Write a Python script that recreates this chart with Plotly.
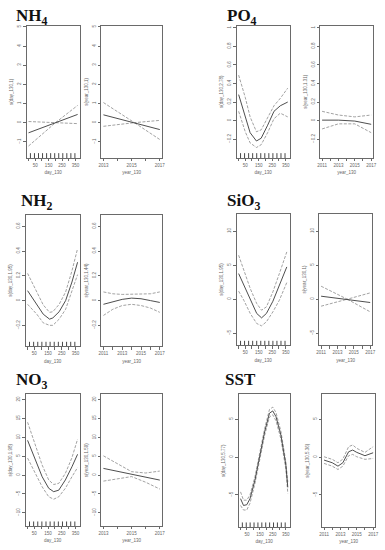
import plotly.graph_objects as go

W, H = 385, 550

# ---------------- data ----------------
rug_days = [15, 45, 75, 105, 135, 165, 195, 225, 255, 285, 315, 345]

# NH4
nh4_day_x = [1, 201, 365]
nh4_day_fit = [-0.53, 0.0, 0.43]
nh4_day_up = [0.06, 0.0, 0.90]
nh4_day_lo = [-1.22, 0.0, -0.05]
nh4_year_x = [2013, 2015.2, 2017]
nh4_year_fit = [0.41, 0.0, -0.36]
nh4_year_up = [1.05, 0.0, 0.12]
nh4_year_lo = [-0.19, 0.0, -0.88]

# PO4
po4_day_x = [1, 50, 86, 133, 168, 216, 263, 310, 365]
po4_day_fit = [0.28, 0.04, -0.13, -0.22, -0.19, -0.05, 0.10, 0.16, 0.20]
po4_day_up = [0.49, 0.25, 0.04, -0.12, -0.10, 0.04, 0.16, 0.24, 0.35]
po4_day_lo = [0.10, -0.12, -0.24, -0.29, -0.26, -0.13, 0.02, 0.08, 0.04]
po4_year_x = [2011, 2013, 2015, 2017]
po4_year_fit = [0.005, 0.005, -0.005, -0.04]
po4_year_up = [0.10, 0.06, 0.04, 0.06]
po4_year_lo = [-0.09, -0.035, -0.035, -0.13]

# NH2
nh2_day_x = [1, 68, 115, 161, 185, 231, 278, 324, 365]
nh2_day_fit = [0.08, -0.03, -0.11, -0.15, -0.14, -0.09, 0.0, 0.15, 0.31]
nh2_day_up = [0.22, 0.07, -0.035, -0.095, -0.09, -0.03, 0.07, 0.24, 0.42]
nh2_day_lo = [-0.03, -0.11, -0.18, -0.20, -0.20, -0.15, -0.07, 0.07, 0.21]
nh2_year_x = [2011, 2012, 2013, 2014, 2015, 2016, 2017]
nh2_year_fit = [-0.03, -0.01, 0.01, 0.02, 0.015, 0.0, -0.015]
nh2_year_up = [0.07, 0.055, 0.05, 0.05, 0.05, 0.055, 0.07]
nh2_year_lo = [-0.12, -0.07, -0.04, -0.03, -0.04, -0.06, -0.095]

# SiO3
sio3_day_x = [1, 39, 87, 135, 171, 207, 255, 303, 358]
sio3_day_fit = [3.77, 2.06, -0.15, -2.1, -2.75, -2.1, -0.3, 2.06, 4.75]
sio3_day_up = [6.47, 4.26, 1.57, -0.64, -1.62, -1.13, 1.08, 3.77, 6.96]
sio3_day_lo = [1.18, -0.15, -2.1, -3.58, -3.92, -3.33, -1.86, -0.15, 2.45]
sio3_year_x = [2011, 2014.2, 2017]
sio3_year_fit = [0.44, 0.0, -0.49]
sio3_year_up = [1.91, 0.0, 0.93]
sio3_year_lo = [-1.03, 0.0, -1.86]

# NO3
no3_day_x = [1, 59, 107, 155, 191, 228, 276, 324, 365]
no3_day_fit = [9.2, 4.0, -0.44, -3.5, -4.4, -4.0, -1.3, 2.2, 5.5]
no3_day_up = [14.0, 7.5, 2.65, -1.3, -2.5, -2.2, 0.44, 4.6, 9.5]
no3_day_lo = [4.5, 0.44, -3.1, -5.75, -6.4, -5.75, -3.5, -0.44, 2.0]
no3_year_x = [2013, 2014, 2015, 2016, 2017]
no3_year_fit = [1.77, 0.95, 0.18, -0.6, -1.33]
no3_year_up = [5.1, 2.9, 0.9, 0.55, 1.06]
no3_year_lo = [-1.6, -0.9, -0.4, -1.9, -3.7]

# SST
sst_day_x = [1, 24, 49, 74, 112, 149, 187, 224, 249, 274, 312, 350, 365]
sst_day_fit = [-5.5, -6.4, -6.3, -5.5, -3.05, 0.04, 3.36, 5.8, 6.1, 5.35, 2.9, -1.06, -4.0]
sst_day_up = [-4.6, -5.7, -5.7, -5.0, -2.6, 0.5, 3.8, 6.3, 6.6, 5.9, 3.4, -0.6, -3.3]
sst_day_lo = [-6.4, -7.0, -7.0, -6.1, -3.5, -0.4, 2.9, 5.3, 5.6, 4.8, 2.4, -1.6, -4.8]
sst_year_x = [2011, 2012, 2012.7, 2013.3, 2014, 2014.5, 2015, 2016, 2017]
sst_year_fit = [-0.4, -0.75, -1.2, -0.75, 0.7, 0.93, 0.62, 0.18, 0.57]
sst_year_up = [0.04, -0.3, -0.75, -0.27, 1.37, 1.6, 1.15, 0.62, 1.37]
sst_year_lo = [-0.84, -1.2, -1.64, -1.2, 0.18, 0.35, 0.04, -0.3, -0.18]

day_ticks = [50, 150, 250, 350]
year_ticks_a = [2013, 2015, 2017]
year_ticks_b = [2011, 2013, 2015, 2017]

# ---------------- panel definitions ----------------
panels = [
    dict(title="NH<sub>4</sub>", tpos=(11, 3),
         day=(nh4_day_x, nh4_day_fit, nh4_day_up, nh4_day_lo),
         year=(nh4_year_x, nh4_year_fit, nh4_year_up, nh4_year_lo),
         dlab="s(day_130,1)", ylab="s(year_130,1)",
         yr=[-1.83, 5.05], yt=[-1, 0, 1, 2, 3, 4, 5],
         yspan=(2013, 2017), yticks=year_ticks_a,
         xl=(24, 78), xr=(100, 162), yb=(25, 157)),
    dict(title="PO<sub>4</sub>", tpos=(226, 3),
         day=(po4_day_x, po4_day_fit, po4_day_up, po4_day_lo),
         year=(po4_year_x, po4_year_fit, po4_year_up, po4_year_lo),
         dlab="s(day_130,2.78)", ylab="s(year_130,1.31)",
         yr=[-0.40, 1.02], yt=[-0.2, 0, 0.2, 0.4, 0.6, 0.8, 1.0],
         yspan=(2011, 2017), yticks=year_ticks_b,
         xl=(238, 292), xr=(323, 377), yb=(25, 157)),
    dict(title="NH<sub>2</sub>", tpos=(16, 188),
         day=(nh2_day_x, nh2_day_fit, nh2_day_up, nh2_day_lo),
         year=(nh2_year_x, nh2_year_fit, nh2_year_up, nh2_year_lo),
         dlab="s(day_130,1.95)", ylab="s(year_130,1.44)",
         yr=[-0.37, 0.695], yt=[-0.2, 0, 0.2, 0.4, 0.6],
         yspan=(2011, 2017), yticks=year_ticks_b,
         xl=(23, 78), xr=(100, 162), yb=(214, 346)),
    dict(title="SiO<sub>3</sub>", tpos=(226, 188),
         day=(sio3_day_x, sio3_day_fit, sio3_day_up, sio3_day_lo),
         year=(sio3_year_x, sio3_year_fit, sio3_year_up, sio3_year_lo),
         dlab="s(day_130,1.95)", ylab="s(year_130,1)",
         yr=[-6.8, 12.6], yt=[-5, 0, 5, 10],
         yspan=(2011, 2017), yticks=year_ticks_b,
         xl=(238, 292), xr=(322, 376), yb=(213, 345)),
    dict(title="NO<sub>3</sub>", tpos=(11, 368),
         day=(no3_day_x, no3_day_fit, no3_day_up, no3_day_lo),
         year=(no3_year_x, no3_year_fit, no3_year_up, no3_year_lo),
         dlab="s(day_130,1.98)", ylab="s(year_130,1.59)",
         yr=[-13.5, 21.4], yt=[-10, -5, 0, 5, 10, 15, 20],
         yspan=(2013, 2017), yticks=year_ticks_a,
         xl=(23, 78), xr=(100, 162), yb=(394, 526)),
    dict(title="SST", tpos=(224, 368),
         day=(sst_day_x, sst_day_fit, sst_day_up, sst_day_lo),
         year=(sst_year_x, sst_year_fit, sst_year_up, sst_year_lo),
         dlab="s(day_130,5.77)", ylab="s(year_130,5.36)",
         yr=[-9.25, 8.3], yt=[-5, 0, 5],
         yspan=(2011, 2017), yticks=year_ticks_b,
         xl=(240, 292), xr=(325, 379), yb=(394, 527)),
]

fig = go.Figure()
layout = dict(width=W, height=H, margin=dict(l=0, r=0, t=0, b=0),
              paper_bgcolor="white", plot_bgcolor="white", showlegend=False)
annotations = []

FIT = "#3a3a3a"
CI = "#8a8a8a"
AX = "#6a6a6a"
TF = dict(family="Liberation Sans, Arial", size=4.5, color="#666")


def px2x(p):
    return p / W


def px2y(p):
    return 1 - p / H


ax_i = 0
for pnl in panels:
    for kind in ("day", "year"):
        ax_i += 1
        sfx = "" if ax_i == 1 else str(ax_i)
        xa, ya = "x" + sfx, "y" + sfx
        xs, fit, up, lo = pnl[kind]
        for vals, col, dash, wd in ((up, CI, "3px,1.5px", 0.8), (lo, CI, "3px,1.5px", 0.8),
                                    (fit, FIT, "solid", 0.9)):
            fig.add_trace(go.Scatter(x=xs, y=vals, mode="lines", xaxis=xa, yaxis=ya,
                                     line=dict(color=col, width=wd, dash=dash),
                                     hoverinfo="skip"))
        y0, y1 = pnl["yr"]
        if kind == "day":
            xb = pnl["xl"]
            xrange = [-13.6, 379.6]
            tv = day_ticks
            minor = dict(ticks="outside", tick0=0, dtick=50, ticklen=2.5,
                         tickwidth=0.6, tickcolor=AX)
            xtitle = "day_130"
            ytitle = pnl["dlab"]
            fig.add_trace(go.Scatter(x=rug_days, y=[y0 + 0.016 * (y1 - y0)] * len(rug_days),
                                     mode="markers", xaxis=xa, yaxis=ya, cliponaxis=False,
                                     marker=dict(symbol="line-ns-open", size=3.5, color="#333",
                                                 line=dict(color="#333", width=0.9)),
                                     hoverinfo="skip"))
        else:
            xb = pnl["xr"]
            a, b = pnl["yspan"]
            pad = 0.04 * (b - a)
            xrange = [a - pad, b + pad]
            tv = pnl["yticks"]
            minor = dict(ticks="outside", tick0=2011, dtick=1, ticklen=2.5,
                         tickwidth=0.6, tickcolor=AX)
            xtitle = "year_130"
            ytitle = pnl["ylab"]
        yb = pnl["yb"]
        common = dict(showline=True, mirror=True, linecolor=AX, linewidth=0.8,
                      ticks="outside", ticklen=2.5, tickwidth=0.6, tickcolor=AX,
                      showgrid=False, zeroline=False, tickfont=TF,
                      title_font=TF)
        layout["xaxis" + sfx] = dict(common, domain=[px2x(xb[0]), px2x(xb[1])],
                                     anchor=ya, range=xrange, tickmode="array",
                                     tickvals=tv, ticktext=[str(v) for v in tv],
                                     minor=minor,
                                     title=dict(text=xtitle, standoff=4))
        layout["yaxis" + sfx] = dict(common, domain=[px2y(yb[1]), px2y(yb[0])],
                                     anchor=xa, range=[y0, y1], tickmode="array",
                                     tickvals=pnl["yt"], tickangle=-90,
                                     title=dict(text=ytitle, standoff=3))
    tx, ty = pnl["tpos"]
    annotations.append(dict(text="<b>" + pnl["title"] + "</b>", x=px2x(tx), y=px2y(ty),
                            xref="paper", yref="paper", xanchor="left", yanchor="top",
                            showarrow=False,
                            font=dict(family="Liberation Serif, Times New Roman, serif",
                                      size=17, color="#111")))

layout["annotations"] = annotations
fig.update_layout(**layout)
fig.write_html("out.html", config={"displayModeBar": False},
               post_script="document.body.style.margin='0';document.body.style.overflow='hidden';")
